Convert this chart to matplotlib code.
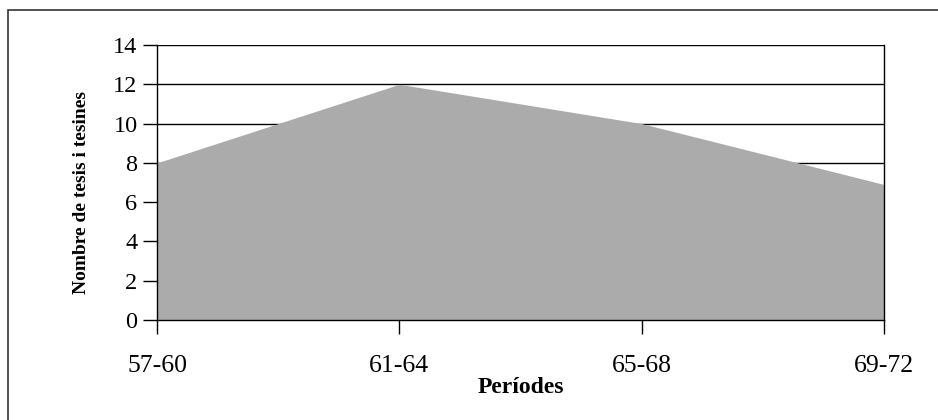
import matplotlib
matplotlib.use("Agg")
import matplotlib.pyplot as plt
from matplotlib.patches import Rectangle

periods = ["57-60", "61-64", "65-68", "69-72"]
values = [8, 12, 10, 6.9]
yticks = [0, 2, 4, 6, 8, 10, 12, 14]

plt.rcParams['font.family'] = ['Liberation Serif', 'DejaVu Serif']

fig = plt.figure(figsize=(9.38, 4.2), dpi=100)
W, H = 938, 420
ax = fig.add_axes([157/W, 1 - 320/H, (884-157)/W, (320-45)/H])

x = list(range(len(periods)))
ax.fill_between(x, values, 0, color='#ababab', linewidth=0, zorder=2)
ax.set_xlim(0, len(periods) - 1)
ax.set_ylim(0, 14)
ax.set_yticks(yticks)
ax.set_yticklabels([str(v) for v in yticks], fontsize=17.5)
ax.set_xticks(x)
ax.set_xticklabels(periods, fontsize=18.5)
ax.yaxis.grid(True, color='black', linewidth=1.0, zorder=1)
ax.set_axisbelow(True)
for s in ['left', 'bottom', 'right']:
    ax.spines[s].set_color('black')
    ax.spines[s].set_linewidth(1.0)
    ax.spines[s].set_zorder(3)
ax.spines['top'].set_visible(False)
ax.tick_params(axis='y', direction='out', length=10, width=1, pad=4)
ax.tick_params(axis='x', direction='out', length=10, width=1, pad=15)
ax.set_ylabel("Nombre de tesis i tesines", fontsize=14, fontweight='bold')
ax.yaxis.set_label_coords(-(157-90)/(884-157), (320-192)/(320-45))
ax.set_xlabel("Períodes", fontsize=17, fontweight='bold', labelpad=0)

fig.patches.append(Rectangle((8/W, -0.1), 1.2, 1 - 10/H + 0.1, transform=fig.transFigure,
                             fill=False, edgecolor='#333333', linewidth=1.2))

fig.savefig("out.png", dpi=100)
